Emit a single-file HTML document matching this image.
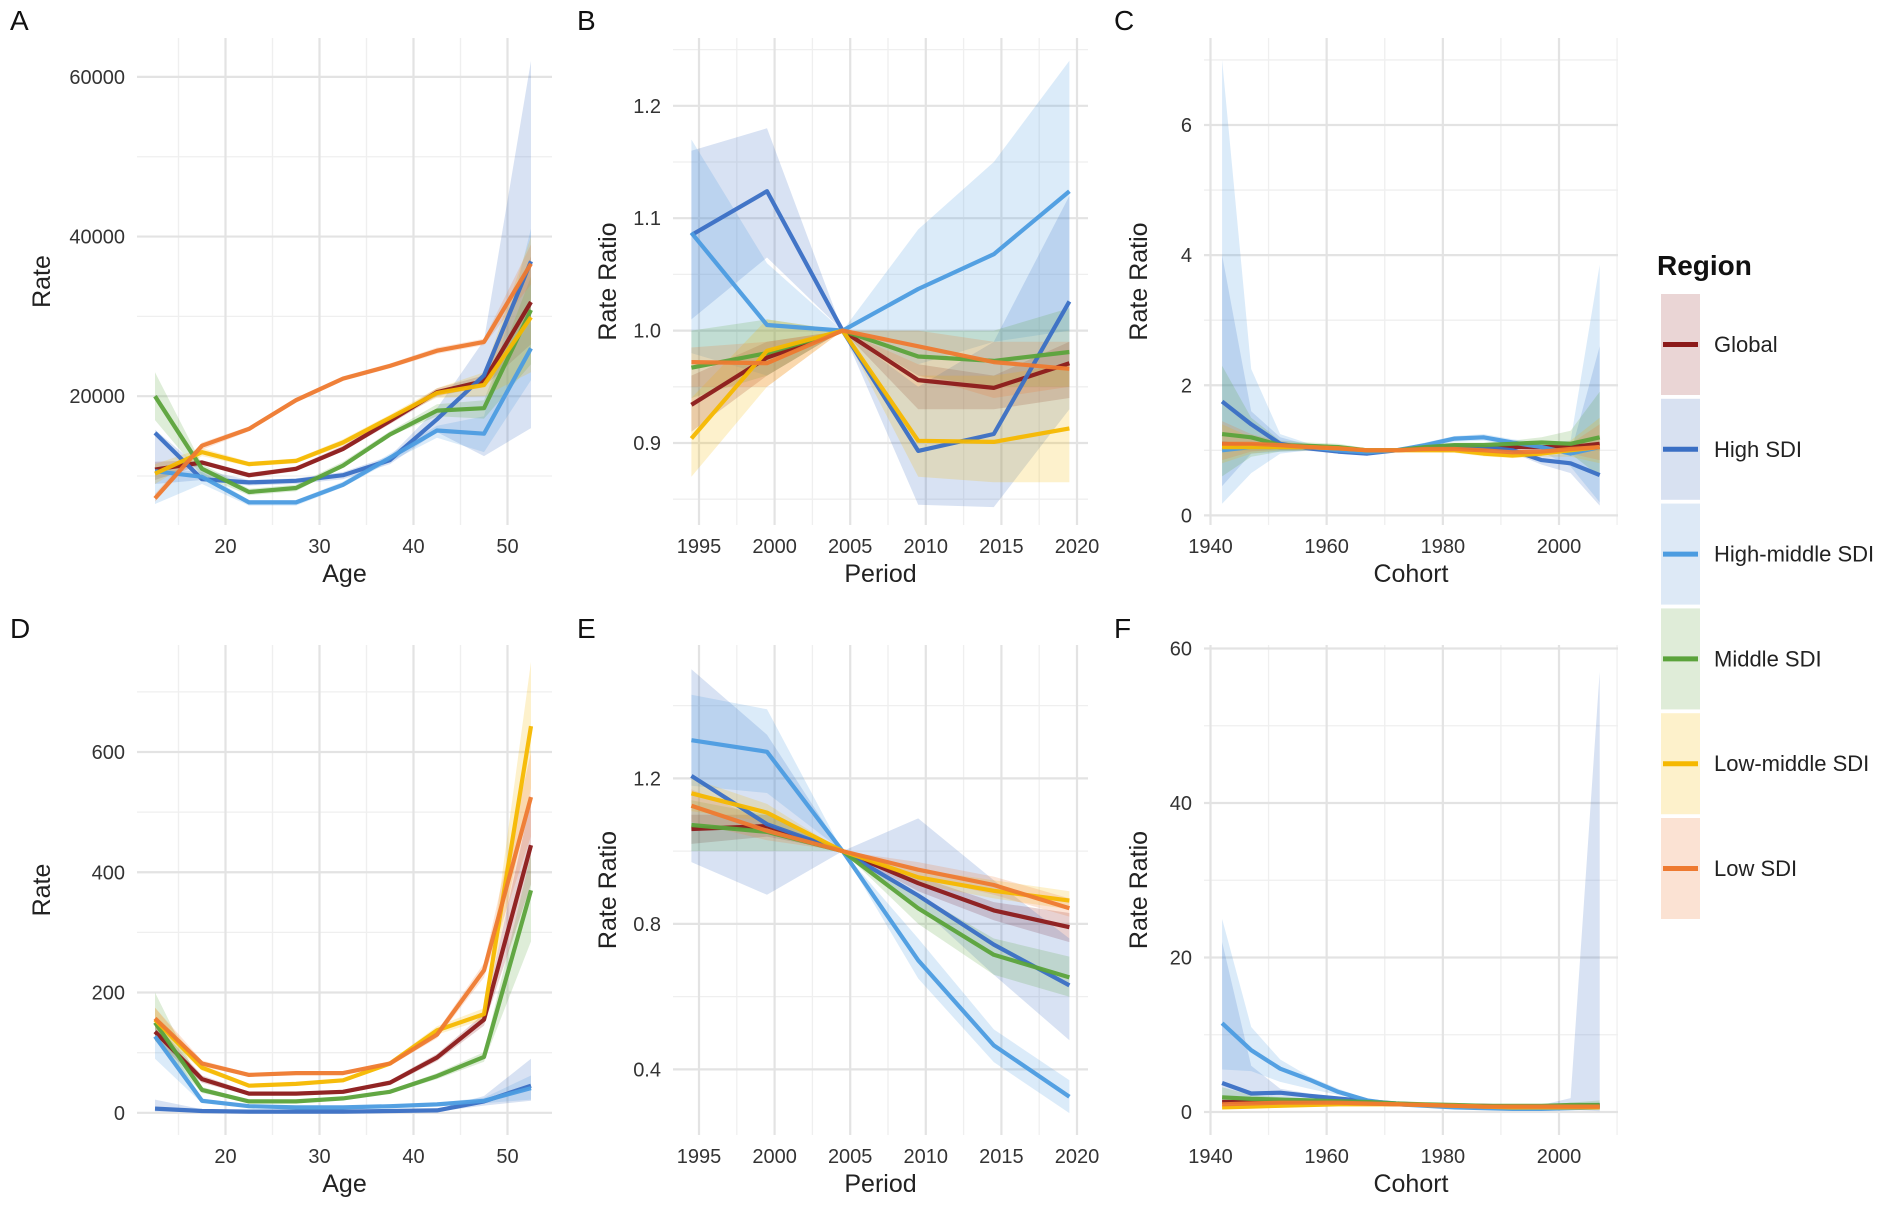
<!DOCTYPE html>
<html><head><meta charset="utf-8"><style>
html,body{margin:0;padding:0;background:#fff;}
svg{display:block;font-family:"Liberation Sans",Arial,sans-serif;}
</style></head><body>
<svg id="chart" width="1901" height="1205" viewBox="0 0 1901 1205" xmlns="http://www.w3.org/2000/svg"></svg>
<script>
// ---------- DATA ----------
const seriesKeys = ['global','high','hm','middle','lm','low'];
const seriesLabels = ['Global','High SDI','High-middle SDI','Middle SDI','Low-middle SDI','Low SDI'];
const ageX = [12.5,17.5,22.5,27.5,32.5,37.5,42.5,47.5,52.5];
const periodX = [1994.5,1999.5,2004.5,2009.5,2014.5,2019.5];
const cohortX = [1942,1947,1952,1957,1962,1967,1972,1977,1982,1987,1992,1997,2002,2007];

// Panel A
const A_global = [10800,11700,10100,10900,13400,16900,20500,21900,31800];
const A_high   = [15400,9600,9200,9400,10100,12000,17100,22600,36900];
const A_hm     = [10600,9900,6700,6700,8900,12300,15700,15300,26000];
const A_middle = [20000,10900,8000,8500,11300,15200,18200,18500,30800];
const A_lm     = [10300,13000,11500,11900,14200,17300,20400,21400,29900];
const A_low    = [7200,13800,15900,19500,22200,23800,25700,26800,36600];
const A_global_lo = [9500,11400,9800,10600,13100,16500,20000,21200,26500];
const A_global_hi = [11800,12000,10400,11200,13800,17300,21000,22600,37500];
const A_high_lo = [9000,9500,8800,9000,9600,11500,15500,12500,16000];
const A_high_hi = [15800,10800,9500,9700,10500,12500,18500,27000,62000];
const A_hm_lo = [6500,9000,6300,6300,8600,11800,14800,13000,22000];
const A_hm_hi = [11000,10500,7000,7000,9300,12800,16300,17500,41000];
const A_middle_lo = [17000,10000,7600,8100,11200,15000,17500,17200,24000];
const A_middle_hi = [23000,11500,8400,8900,11800,15600,19000,19500,35000];
const A_lm_lo = [9000,12500,11200,11600,13800,17000,19800,20000,23000];
const A_lm_hi = [11500,13500,11800,12200,14600,17700,21000,23000,40000];
const A_low_lo = [6800,13300,15600,19200,21900,23500,25300,26400,34000];
const A_low_hi = [7800,14200,16200,19800,22500,24100,26100,27200,39000];

// Panel B
const B_global = [0.934,0.976,1.0,0.956,0.949,0.971];
const B_high   = [1.085,1.124,1.0,0.893,0.908,1.026];
const B_hm     = [1.087,1.005,1.0,1.037,1.068,1.124];
const B_middle = [0.967,0.980,1.0,0.977,0.973,0.981];
const B_lm     = [0.904,0.982,1.0,0.902,0.901,0.913];
const B_low    = [0.972,0.971,1.0,0.986,0.972,0.966];
const B_global_lo = [0.91,0.96,1,0.93,0.93,0.94];
const B_global_hi = [0.96,0.99,1,0.97,0.96,0.99];
const B_high_lo = [1.01,1.065,1.0,0.845,0.843,0.93];
const B_high_hi = [1.16,1.18,1.0,0.95,0.99,1.12];
const B_hm_lo = [0.98,0.96,1.0,0.97,0.99,1.0];
const B_hm_hi = [1.17,1.06,1.0,1.09,1.15,1.24];
const B_middle_lo = [0.94,0.96,1,0.96,0.95,0.95];
const B_middle_hi = [1.0,1.01,1,1.0,1.0,1.02];
const B_lm_lo = [0.87,0.95,1,0.87,0.865,0.865];
const B_lm_hi = [0.94,1.01,1,0.96,0.96,0.97];
const B_low_lo = [0.95,0.95,1,0.96,0.94,0.95];
const B_low_hi = [0.985,0.99,1,1.0,0.99,0.99];

// Panel C
const C_global = [1.1,1.08,1.05,1.05,1.03,1.0,1.0,1.02,1.03,1.03,1.05,1.05,1.05,1.1];
const C_high   = [1.75,1.4,1.1,1.03,0.98,0.95,1.0,1.05,1.07,1.05,1.0,0.85,0.8,0.62];
const C_hm     = [1.0,1.05,1.05,1.05,1.0,0.97,1.0,1.08,1.18,1.2,1.12,1.05,0.95,1.05];
const C_middle = [1.25,1.2,1.08,1.07,1.05,1.0,1.0,1.05,1.08,1.08,1.1,1.12,1.1,1.2];
const C_lm     = [1.05,1.05,1.05,1.05,1.03,1.0,1.0,1.0,1.0,0.95,0.92,0.95,1.0,1.05];
const C_low    = [1.1,1.1,1.08,1.05,1.03,1.0,1.0,1.02,1.02,1.0,0.97,0.98,1.02,1.05];
const C_high_lo = [0.45,0.95,0.98,0.99,0.95,0.92,0.98,1.02,1.04,1.02,0.96,0.78,0.65,0.15];
const C_high_hi = [4.0,1.6,1.2,1.08,1.02,0.98,1.02,1.08,1.1,1.08,1.04,0.92,0.95,2.6];
const C_hm_lo = [0.18,0.65,0.95,1.0,0.95,0.94,0.98,1.04,1.13,1.15,1.07,0.98,0.75,0.2];
const C_hm_hi = [7.0,2.25,1.25,1.1,1.05,1.0,1.02,1.12,1.22,1.25,1.17,1.12,1.15,3.85];
const C_middle_lo = [0.6,0.9,0.98,1.0,1.0,0.97,0.98,1.02,1.04,1.04,1.05,1.05,0.95,0.6];
const C_middle_hi = [2.3,1.5,1.15,1.12,1.1,1.03,1.02,1.08,1.12,1.12,1.15,1.2,1.3,1.9];
const C_lm_lo = [0.8,0.95,1.0,1.0,1.0,0.98,0.98,0.97,0.96,0.91,0.88,0.9,0.9,0.8];
const C_lm_hi = [1.4,1.2,1.1,1.1,1.06,1.02,1.02,1.03,1.04,1.0,0.96,1.0,1.15,1.5];
const C_low_lo = [0.85,0.98,1.02,1.02,1.0,0.98,0.98,1.0,1.0,0.97,0.94,0.94,0.95,0.85];
const C_low_hi = [1.45,1.25,1.14,1.08,1.06,1.02,1.02,1.04,1.04,1.03,1.0,1.02,1.1,1.4];

// Panel D
const D_global = [135,56,32,32,35,50,92,155,445];
const D_high   = [7,3,2,2,2,3,4,19,45];
const D_hm     = [127,20,11,9,9,11,14,20,41];
const D_middle = [150,38,19,19,24,35,61,93,370];
const D_lm     = [155,75,45,48,54,82,137,164,643];
const D_low    = [157,82,63,66,66,82,130,237,525];
const D_global_lo = [120,50,29,29,32,46,86,145,380];
const D_global_hi = [150,62,35,35,38,54,98,165,520];
const D_high_lo = [2,1,1,1,1,1,2,12,20];
const D_high_hi = [22,6,3,3,3,4,6,28,90];
const D_hm_lo = [90,16,9,7,7,9,11,16,22];
const D_hm_hi = [150,24,13,11,11,13,17,25,62];
const D_middle_lo = [120,33,17,17,22,32,56,85,285];
const D_middle_hi = [200,43,21,21,26,38,66,101,430];
const D_lm_lo = [140,70,42,45,51,78,130,155,540];
const D_lm_hi = [175,80,48,51,57,86,144,174,750];
const D_low_lo = [145,77,60,63,63,78,124,225,460];
const D_low_hi = [175,87,66,69,69,86,136,249,600];

// Panel E
const E_global = [1.061,1.069,1.0,0.912,0.837,0.791];
const E_high   = [1.207,1.074,1.0,0.878,0.743,0.631];
const E_hm     = [1.305,1.273,1.0,0.700,0.466,0.325];
const E_middle = [1.072,1.053,1.0,0.843,0.715,0.653];
const E_lm     = [1.159,1.106,1.0,0.928,0.891,0.864];
const E_low    = [1.125,1.056,1.0,0.949,0.907,0.843];
const E_global_lo = [1.02,1.04,1,0.89,0.81,0.75];
const E_global_hi = [1.10,1.10,1,0.93,0.86,0.83];
const E_high_lo = [0.97,0.88,1,0.85,0.66,0.48];
const E_high_hi = [1.50,1.32,1,1.09,0.92,0.76];
const E_hm_lo = [1.18,1.16,1,0.65,0.42,0.28];
const E_hm_hi = [1.43,1.39,1,0.76,0.51,0.37];
const E_middle_lo = [1.0,1.0,1,0.80,0.66,0.60];
const E_middle_hi = [1.14,1.10,1,0.88,0.76,0.71];
const E_lm_lo = [1.11,1.08,1,0.91,0.87,0.84];
const E_lm_hi = [1.20,1.13,1,0.95,0.92,0.89];
const E_low_lo = [1.08,1.03,1,0.93,0.88,0.82];
const E_low_hi = [1.17,1.08,1,0.97,0.93,0.87];

// Panel F
const F_global = [1.3,1.3,1.3,1.3,1.2,1.1,1.0,0.9,0.8,0.8,0.7,0.7,0.7,0.8];
const F_high   = [3.75,2.4,2.5,2.1,1.75,1.4,1.1,0.9,0.8,0.7,0.7,0.7,0.75,0.9];
const F_hm     = [11.5,8.0,5.6,4.2,2.6,1.5,1.0,0.8,0.6,0.5,0.4,0.4,0.5,0.6];
const F_middle = [1.9,1.7,1.6,1.5,1.4,1.3,1.1,1.0,0.9,0.8,0.8,0.8,0.9,0.9];
const F_lm     = [0.6,0.7,0.8,0.9,1.0,1.0,1.0,0.9,0.8,0.7,0.6,0.6,0.6,0.6];
const F_low    = [1.0,1.1,1.2,1.2,1.2,1.1,1.0,0.9,0.8,0.7,0.7,0.7,0.7,0.7];
const F_high_lo = [0.9,1.5,1.8,1.7,1.5,1.2,1.0,0.8,0.7,0.6,0.6,0.5,0.3,0.1];
const F_high_hi = [22,6,3,2.4,2,1.6,1.2,1,0.9,0.8,0.8,0.9,1.8,57];
const F_hm_lo = [5.5,5.3,3.9,3.0,2.2,1.3,0.9,0.7,0.5,0.4,0.3,0.3,0.3,0.3];
const F_hm_hi = [25,11,6.8,4.6,3.0,1.7,1.1,0.9,0.7,0.6,0.5,0.5,0.8,1.0];
const F_middle_lo = [1.2,1.3,1.3,1.3,1.2,1.1,1.0,0.9,0.8,0.7,0.7,0.7,0.6,0.5];
const F_middle_hi = [3.2,2.2,1.9,1.7,1.6,1.5,1.2,1.1,1.0,0.9,0.9,0.9,1.2,1.5];

// Tick labels
const A_yticks = [20000,40000,60000];
const D_yticks = [0,200,400,600];
const B_yticks = [0.9,1.0,1.1,1.2];
const E_yticks = [0.4,0.8,1.2];
const C_yticks = [0,2,4,6];
const F_yticks = [0,20,40,60];
const age_xticks = [20,30,40,50];
const period_xticks = [1995,2000,2005,2010,2015,2020];
const cohort_xticks = [1940,1960,1980,2000];

// ---------- STYLE ----------
const colors = {global:'#8c1a1a', high:'#3a6fc4', hm:'#4c9ce0', middle:'#5ba33b', lm:'#f5b800', low:'#ee7a30'};
const keyFill = {global:'#ead5d5', high:'#d8e1f1', hm:'#dde9f6', middle:'#dfecd8', lm:'#fdf1cb', low:'#fbe2d3'};

const svg = document.getElementById('chart');
const NS = 'http://www.w3.org/2000/svg';
function mk(tag, parent){ const e = document.createElementNS(NS, tag); parent.appendChild(e); return e; }
function lin(d0,r0,d1,r1){ return v => r0 + (v-d0)*(r1-r0)/(d1-d0); }
function fmt(v){ return (Math.abs(v) < 10 && v % 1 !== 0) || (v===1) ? v.toFixed(1) : String(v); }

const panels = [
 {id:'A', letter:[20,30], box:[137,38,552,525], xs:lin(20,225.5,50,507.5), ys:lin(20000,396.2,60000,76.9),
  xv:ageX, xticks:age_xticks, xminor:[15,25,35,45], yticks:A_yticks, yminor:[10000,30000,50000],
  xtitle:'Age', ytitle:'Rate', yfmt:v=>String(v),
  data:{global:[A_global,A_global_lo,A_global_hi],high:[A_high,A_high_lo,A_high_hi],hm:[A_hm,A_hm_lo,A_hm_hi],middle:[A_middle,A_middle_lo,A_middle_hi],lm:[A_lm,A_lm_lo,A_lm_hi],low:[A_low,A_low_lo,A_low_hi]}},
 {id:'B', letter:[587,30], box:[673,38,1088,525], xs:lin(1995,699,2020,1077), ys:lin(0.9,443,1.2,105.8),
  xv:periodX, xticks:period_xticks, xminor:[1997.5,2002.5,2007.5,2012.5,2017.5], yticks:B_yticks, yminor:[0.85,0.95,1.05,1.15,1.25],
  xtitle:'Period', ytitle:'Rate Ratio', yfmt:v=>v.toFixed(1),
  data:{global:[B_global,B_global_lo,B_global_hi],high:[B_high,B_high_lo,B_high_hi],hm:[B_hm,B_hm_lo,B_hm_hi],middle:[B_middle,B_middle_lo,B_middle_hi],lm:[B_lm,B_lm_lo,B_lm_hi],low:[B_low,B_low_lo,B_low_hi]}},
 {id:'C', letter:[1124,30], box:[1204,38,1618,525], xs:lin(1940,1210.5,2000,1559), ys:lin(0,515.4,6,125),
  xv:cohortX, xticks:cohort_xticks, xminor:[1950,1970,1990,2010], yticks:C_yticks, yminor:[1,3,5,7],
  xtitle:'Cohort', ytitle:'Rate Ratio', yfmt:v=>String(v),
  data:{global:[C_global],high:[C_high,C_high_lo,C_high_hi],hm:[C_hm,C_hm_lo,C_hm_hi],middle:[C_middle,C_middle_lo,C_middle_hi],lm:[C_lm,C_lm_lo,C_lm_hi],low:[C_low,C_low_lo,C_low_hi]}},
 {id:'D', letter:[20,638], box:[137,645,552,1135], xs:lin(20,225.5,50,507.5), ys:lin(0,1112.8,600,752),
  xv:ageX, xticks:age_xticks, xminor:[15,25,35,45], yticks:D_yticks, yminor:[100,300,500,700],
  xtitle:'Age', ytitle:'Rate', yfmt:v=>String(v),
  data:{global:[D_global,D_global_lo,D_global_hi],high:[D_high,D_high_lo,D_high_hi],hm:[D_hm,D_hm_lo,D_hm_hi],middle:[D_middle,D_middle_lo,D_middle_hi],lm:[D_lm,D_lm_lo,D_lm_hi],low:[D_low,D_low_lo,D_low_hi]}},
 {id:'E', letter:[587,638], box:[673,645,1088,1135], xs:lin(1995,699,2020,1077), ys:lin(0.4,1069.4,1.2,778.4),
  xv:periodX, xticks:period_xticks, xminor:[1997.5,2002.5,2007.5,2012.5,2017.5], yticks:E_yticks, yminor:[0.6,1.0,1.4],
  xtitle:'Period', ytitle:'Rate Ratio', yfmt:v=>v.toFixed(1),
  data:{global:[E_global,E_global_lo,E_global_hi],high:[E_high,E_high_lo,E_high_hi],hm:[E_hm,E_hm_lo,E_hm_hi],middle:[E_middle,E_middle_lo,E_middle_hi],lm:[E_lm,E_lm_lo,E_lm_hi],low:[E_low,E_low_lo,E_low_hi]}},
 {id:'F', letter:[1124,638], box:[1204,645,1618,1135], xs:lin(1940,1210.5,2000,1559), ys:lin(0,1112,60,648.5),
  xv:cohortX, xticks:cohort_xticks, xminor:[1950,1970,1990,2010], yticks:F_yticks, yminor:[10,30,50],
  xtitle:'Cohort', ytitle:'Rate Ratio', yfmt:v=>String(v),
  data:{global:[F_global],high:[F_high,F_high_lo,F_high_hi],hm:[F_hm,F_hm_lo,F_hm_hi],middle:[F_middle,F_middle_lo,F_middle_hi],lm:[F_lm],low:[F_low]}}
];

panels.forEach(p => {
  const g = mk('g', svg);
  
  
  const [bx0,by0,bx1,by1] = p.box;
  const clip = mk('clipPath', g);
  clip.setAttribute('id', 'clip' + p.id);
  const cr = mk('rect', clip);
  cr.setAttribute('x', bx0); cr.setAttribute('y', by0); cr.setAttribute('width', bx1-bx0); cr.setAttribute('height', by1-by0);

  // grid
  const grid = mk('g', g);
  
  
  p.xminor.forEach(v => { const x=p.xs(v); if(x<bx0-1||x>bx1+1) return; const l=mk('line',grid); l.setAttribute('x1',x);l.setAttribute('x2',x);l.setAttribute('y1',by0);l.setAttribute('y2',by1);l.setAttribute('stroke','#efefef');l.setAttribute('stroke-width','1.3'); });
  p.yminor.forEach(v => { const y=p.ys(v); if(y<by0-1||y>by1+1) return; const l=mk('line',grid); l.setAttribute('x1',bx0);l.setAttribute('x2',bx1);l.setAttribute('y1',y);l.setAttribute('y2',y);l.setAttribute('stroke','#efefef');l.setAttribute('stroke-width','1.3'); });
  p.xticks.forEach(v => { const x=p.xs(v); const l=mk('line',grid); l.setAttribute('x1',x);l.setAttribute('x2',x);l.setAttribute('y1',by0);l.setAttribute('y2',by1);l.setAttribute('stroke','#e3e3e3');l.setAttribute('stroke-width','2.2'); });
  p.yticks.forEach(v => { const y=p.ys(v); const l=mk('line',grid); l.setAttribute('x1',bx0);l.setAttribute('x2',bx1);l.setAttribute('y1',y);l.setAttribute('y2',y);l.setAttribute('stroke','#e3e3e3');l.setAttribute('stroke-width','2.2'); });

  // ribbons
  const rib = mk('g', g);
  rib.setAttribute('clip-path', 'url(#clip' + p.id + ')');
  
  
  seriesKeys.forEach(k => {
    const d = p.data[k]; if (!d || d.length < 3) return;
    const lo = d[1], hi = d[2];
    let pts = p.xv.map((x,i)=> p.xs(x).toFixed(1)+','+p.ys(hi[i]).toFixed(1));
    for (let i=p.xv.length-1;i>=0;i--) pts.push(p.xs(p.xv[i]).toFixed(1)+','+p.ys(lo[i]).toFixed(1));
    const poly = mk('polygon', rib);
    
    
    poly.setAttribute('points', pts.join(' '));
    poly.setAttribute('fill', colors[k]);
    poly.setAttribute('fill-opacity', '0.2');
  });
  // lines
  const lines = mk('g', g);
  lines.setAttribute('clip-path', 'url(#clip' + p.id + ')');
  
  
  seriesKeys.forEach(k => {
    const vals = p.data[k][0];
    const pl = mk('polyline', lines);
    
    
    pl.setAttribute('points', p.xv.map((x,i)=> p.xs(x).toFixed(1)+','+p.ys(vals[i]).toFixed(1)).join(' '));
    pl.setAttribute('fill', 'none');
    pl.setAttribute('stroke', colors[k]);
    pl.setAttribute('stroke-width', '4.2');
    pl.setAttribute('stroke-linejoin', 'round');
    pl.setAttribute('stroke-opacity', '0.95');
  });

  // tick labels
  const xt = mk('g', g);
  
  
  p.xticks.forEach(v => { const t=mk('text',xt); t.setAttribute('x',p.xs(v)); t.setAttribute('y',by1+28); t.setAttribute('text-anchor','middle'); t.setAttribute('font-size','20'); t.setAttribute('fill','#333'); t.textContent=String(v); });
  const yt = mk('g', g);
  
  
  p.yticks.forEach(v => { const t=mk('text',yt); t.setAttribute('x',bx0-12); t.setAttribute('y',p.ys(v)+7); t.setAttribute('text-anchor','end'); t.setAttribute('font-size','20'); t.setAttribute('fill','#333'); t.textContent=p.yfmt(v); });

  const xtl = mk('text', g);
  
  
  xtl.setAttribute('x', (bx0+bx1)/2); xtl.setAttribute('y', by1+57);
  xtl.setAttribute('text-anchor','middle'); xtl.setAttribute('font-size','25'); xtl.setAttribute('fill','#222');
  xtl.textContent = p.xtitle;
  const ytl = mk('text', g);
  
  
  const ycx = bx0 - (p.id==='A'||p.id==='D' ? 87 : 57), ycy = (by0+by1)/2;
  ytl.setAttribute('x', ycx); ytl.setAttribute('y', ycy);
  ytl.setAttribute('transform', 'rotate(-90 ' + ycx + ' ' + ycy + ')');
  ytl.setAttribute('text-anchor','middle'); ytl.setAttribute('font-size','25'); ytl.setAttribute('fill','#222');
  ytl.textContent = p.ytitle;

  const lt = mk('text', g);
  
  
  lt.setAttribute('x', p.letter[0]-10); lt.setAttribute('y', p.letter[1]);
  lt.setAttribute('font-size','28'); lt.setAttribute('fill','#111');
  lt.textContent = p.id;
});

// legend
const lg = mk('g', svg);


const lt = mk('text', lg);


lt.setAttribute('x', 1657); lt.setAttribute('y', 275);
lt.setAttribute('font-size','28'); lt.setAttribute('font-weight','bold'); lt.setAttribute('fill','#111');
lt.textContent = 'Region';
seriesKeys.forEach((k,i) => {
  const y0 = 294 + i*104.8;
  const e = mk('g', lg);
  
  
  const r = mk('rect', e);
  r.setAttribute('x', 1661); r.setAttribute('y', y0); r.setAttribute('width', 39); r.setAttribute('height', 101);
  r.setAttribute('fill', keyFill[k]);
  const l = mk('line', e);
  l.setAttribute('x1', 1663); l.setAttribute('x2', 1698); l.setAttribute('y1', y0+50.5); l.setAttribute('y2', y0+50.5);
  l.setAttribute('stroke', colors[k]); l.setAttribute('stroke-width', '5');
  const t = mk('text', e);
  t.setAttribute('x', 1714); t.setAttribute('y', y0+58);
  t.setAttribute('font-size','22'); t.setAttribute('fill','#222');
  t.textContent = seriesLabels[i];
});
</script>
</body></html>
